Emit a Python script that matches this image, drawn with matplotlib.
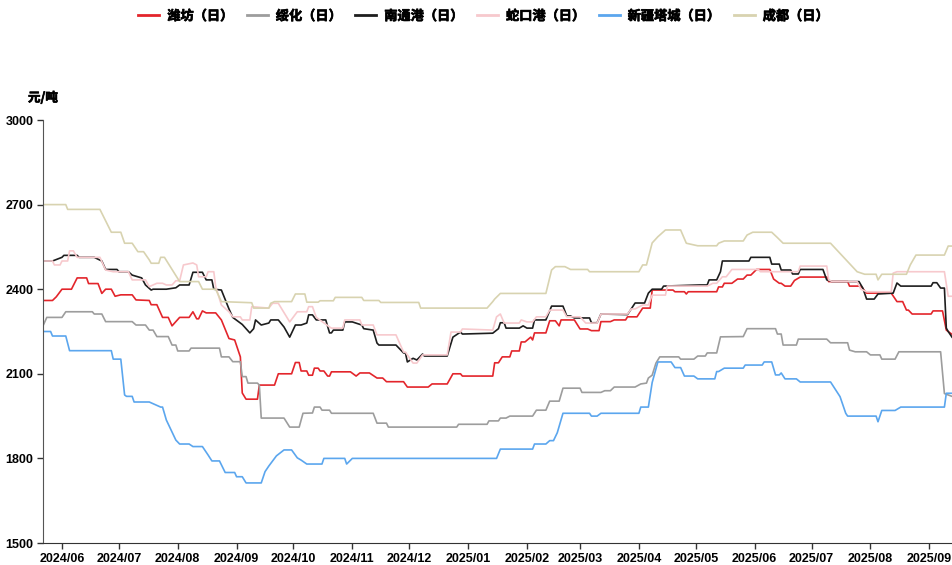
import numpy as np
import matplotlib
matplotlib.use("Agg")
import matplotlib.pyplot as plt
import matplotlib.dates as mdates
import matplotlib.patheffects as pe

plt.rcParams['font.family'] = ['Noto Sans CJK SC', 'DejaVu Sans']

# (date, price), 元/吨
weifang = [
    ("2024-05-22", 2360), ("2024-05-27", 2360), ("2024-05-29", 2373), ("2024-06-01", 2400),
    ("2024-06-06", 2400), ("2024-06-09", 2440), ("2024-06-14", 2440), ("2024-06-15", 2420),
    ("2024-06-20", 2420), ("2024-06-22", 2385), ("2024-06-24", 2400), ("2024-06-27", 2400),
    ("2024-06-29", 2375), ("2024-07-02", 2380), ("2024-07-08", 2380), ("2024-07-10", 2362),
    ("2024-07-17", 2360), ("2024-07-18", 2345), ("2024-07-21", 2345), ("2024-07-24", 2300),
    ("2024-07-27", 2300), ("2024-07-29", 2270), ("2024-08-02", 2300), ("2024-08-07", 2300),
    ("2024-08-09", 2320), ("2024-08-11", 2295), ("2024-08-12", 2295), ("2024-08-14", 2323),
    ("2024-08-16", 2316), ("2024-08-21", 2316), ("2024-08-24", 2291), ("2024-08-28", 2225),
    ("2024-08-31", 2220), ("2024-09-03", 2160), ("2024-09-04", 2032), ("2024-09-06", 2010),
    ("2024-09-12", 2010), ("2024-09-13", 2060), ("2024-09-21", 2060), ("2024-09-23", 2100),
    ("2024-09-30", 2100), ("2024-10-02", 2140), ("2024-10-04", 2140), ("2024-10-05", 2110),
    ("2024-10-08", 2110), ("2024-10-09", 2095), ("2024-10-11", 2095), ("2024-10-12", 2120),
    ("2024-10-14", 2120), ("2024-10-15", 2110), ("2024-10-17", 2110), ("2024-10-19", 2092),
    ("2024-10-20", 2092), ("2024-10-21", 2107), ("2024-10-31", 2107), ("2024-11-03", 2092),
    ("2024-11-05", 2103), ("2024-11-10", 2103), ("2024-11-14", 2085), ("2024-11-17", 2085),
    ("2024-11-19", 2072), ("2024-11-28", 2072), ("2024-11-30", 2053), ("2024-12-11", 2053),
    ("2024-12-13", 2064), ("2024-12-21", 2064), ("2024-12-24", 2100), ("2024-12-28", 2100),
    ("2024-12-29", 2092), ("2025-01-14", 2092), ("2025-01-15", 2139), ("2025-01-17", 2139),
    ("2025-01-19", 2160), ("2025-01-23", 2160), ("2025-01-24", 2181), ("2025-01-28", 2181),
    ("2025-01-29", 2213), ("2025-01-31", 2213), ("2025-02-03", 2230), ("2025-02-04", 2220),
    ("2025-02-05", 2245), ("2025-02-11", 2245), ("2025-02-13", 2288), ("2025-02-16", 2288),
    ("2025-02-18", 2270), ("2025-02-19", 2291), ("2025-02-26", 2291), ("2025-03-01", 2259),
    ("2025-03-05", 2259), ("2025-03-07", 2253), ("2025-03-11", 2253), ("2025-03-12", 2285),
    ("2025-03-17", 2285), ("2025-03-19", 2291), ("2025-03-25", 2291), ("2025-03-26", 2302),
    ("2025-03-31", 2302), ("2025-04-03", 2333), ("2025-04-07", 2333), ("2025-04-08", 2397),
    ("2025-04-19", 2397), ("2025-04-20", 2391), ("2025-04-25", 2391), ("2025-04-26", 2383),
    ("2025-04-27", 2391), ("2025-05-12", 2391), ("2025-05-13", 2408), ("2025-05-15", 2408),
    ("2025-05-16", 2421), ("2025-05-20", 2421), ("2025-05-23", 2436), ("2025-05-26", 2436),
    ("2025-05-28", 2450), ("2025-05-30", 2450), ("2025-06-02", 2470), ("2025-06-09", 2470),
    ("2025-06-11", 2436), ("2025-06-14", 2421), ("2025-06-15", 2421), ("2025-06-17", 2411),
    ("2025-06-20", 2411), ("2025-06-22", 2431), ("2025-06-25", 2443), ("2025-07-09", 2443),
    ("2025-07-10", 2427), ("2025-07-20", 2427), ("2025-07-21", 2411), ("2025-07-27", 2411),
    ("2025-07-30", 2386), ("2025-08-12", 2386), ("2025-08-15", 2356), ("2025-08-18", 2356),
    ("2025-08-20", 2326), ("2025-08-21", 2326), ("2025-08-23", 2312), ("2025-09-02", 2312),
    ("2025-09-03", 2323), ("2025-09-08", 2323), ("2025-09-10", 2255), ("2025-09-13", 2240),
]

suihua = [
    ("2024-05-22", 2270), ("2024-05-24", 2300), ("2024-06-01", 2300), ("2024-06-03", 2320),
    ("2024-06-17", 2320), ("2024-06-18", 2312), ("2024-06-22", 2312), ("2024-06-24", 2285),
    ("2024-07-08", 2285), ("2024-07-10", 2273), ("2024-07-15", 2273), ("2024-07-17", 2255),
    ("2024-07-19", 2255), ("2024-07-21", 2232), ("2024-07-27", 2232), ("2024-07-29", 2202),
    ("2024-07-31", 2202), ("2024-08-01", 2181), ("2024-08-07", 2181), ("2024-08-08", 2191),
    ("2024-08-23", 2191), ("2024-08-24", 2160), ("2024-08-28", 2160), ("2024-08-30", 2143),
    ("2024-09-03", 2143), ("2024-09-04", 2090), ("2024-09-06", 2090), ("2024-09-07", 2067),
    ("2024-09-12", 2067), ("2024-09-13", 2060), ("2024-09-14", 1943), ("2024-09-26", 1943),
    ("2024-09-29", 1911), ("2024-10-04", 1911), ("2024-10-06", 1960), ("2024-10-11", 1961),
    ("2024-10-12", 1982), ("2024-10-15", 1982), ("2024-10-16", 1971), ("2024-10-20", 1971),
    ("2024-10-21", 1960), ("2024-11-12", 1960), ("2024-11-14", 1925), ("2024-11-19", 1925),
    ("2024-11-20", 1911), ("2024-12-26", 1911), ("2024-12-27", 1921), ("2025-01-11", 1921),
    ("2025-01-12", 1933), ("2025-01-17", 1933), ("2025-01-18", 1943), ("2025-01-21", 1943),
    ("2025-01-23", 1950), ("2025-02-04", 1950), ("2025-02-06", 1971), ("2025-02-11", 1971),
    ("2025-02-13", 2003), ("2025-02-18", 2003), ("2025-02-20", 2049), ("2025-03-01", 2049),
    ("2025-03-02", 2034), ("2025-03-12", 2034), ("2025-03-14", 2040), ("2025-03-17", 2040),
    ("2025-03-19", 2053), ("2025-03-30", 2053), ("2025-04-02", 2064), ("2025-04-05", 2067),
    ("2025-04-06", 2085), ("2025-04-08", 2095), ("2025-04-10", 2138), ("2025-04-12", 2160),
    ("2025-04-22", 2160), ("2025-04-23", 2152), ("2025-04-30", 2152), ("2025-05-02", 2163),
    ("2025-05-06", 2163), ("2025-05-07", 2174), ("2025-05-12", 2174), ("2025-05-14", 2231),
    ("2025-05-26", 2232), ("2025-05-28", 2260), ("2025-06-12", 2260), ("2025-06-13", 2241),
    ("2025-06-15", 2241), ("2025-06-16", 2202), ("2025-06-23", 2202), ("2025-06-24", 2223),
    ("2025-07-09", 2223), ("2025-07-11", 2210), ("2025-07-20", 2210), ("2025-07-21", 2184),
    ("2025-07-24", 2178), ("2025-07-30", 2178), ("2025-08-01", 2167), ("2025-08-06", 2167),
    ("2025-08-07", 2152), ("2025-08-14", 2152), ("2025-08-16", 2178), ("2025-09-07", 2178),
    ("2025-09-09", 2030), ("2025-09-13", 2020),
]

nantong = [
    ("2024-05-22", 2500), ("2024-05-27", 2500), ("2024-06-01", 2513), ("2024-06-02", 2520),
    ("2024-06-09", 2520), ("2024-06-10", 2513), ("2024-06-18", 2513), ("2024-06-22", 2500),
    ("2024-06-24", 2470), ("2024-06-30", 2470), ("2024-07-01", 2462), ("2024-07-06", 2462),
    ("2024-07-08", 2450), ("2024-07-13", 2440), ("2024-07-15", 2415), ("2024-07-18", 2397),
    ("2024-07-19", 2400), ("2024-07-26", 2400), ("2024-07-31", 2405), ("2024-08-02", 2415),
    ("2024-08-07", 2415), ("2024-08-09", 2460), ("2024-08-14", 2460), ("2024-08-16", 2433),
    ("2024-08-19", 2433), ("2024-08-20", 2400), ("2024-08-24", 2397), ("2024-08-28", 2330),
    ("2024-08-30", 2300), ("2024-09-04", 2275), ("2024-09-08", 2245), ("2024-09-10", 2260),
    ("2024-09-11", 2291), ("2024-09-14", 2273), ("2024-09-18", 2280), ("2024-09-19", 2291),
    ("2024-09-23", 2291), ("2024-09-26", 2266), ("2024-09-29", 2230), ("2024-10-02", 2273),
    ("2024-10-05", 2273), ("2024-10-08", 2280), ("2024-10-09", 2309), ("2024-10-11", 2309),
    ("2024-10-13", 2291), ("2024-10-18", 2291), ("2024-10-20", 2245), ("2024-10-21", 2245),
    ("2024-10-22", 2255), ("2024-10-27", 2255), ("2024-10-28", 2284), ("2024-11-01", 2284),
    ("2024-11-06", 2273), ("2024-11-07", 2260), ("2024-11-12", 2255), ("2024-11-14", 2209),
    ("2024-11-15", 2202), ("2024-11-24", 2202), ("2024-11-28", 2174), ("2024-11-29", 2174),
    ("2024-11-30", 2142), ("2024-12-03", 2155), ("2024-12-05", 2149), ("2024-12-08", 2170),
    ("2024-12-09", 2163), ("2024-12-21", 2163), ("2024-12-24", 2230), ("2024-12-28", 2248),
    ("2024-12-29", 2241), ("2025-01-14", 2244), ("2025-01-17", 2260), ("2025-01-18", 2281),
    ("2025-01-20", 2281), ("2025-01-21", 2262), ("2025-01-28", 2262), ("2025-01-30", 2270),
    ("2025-02-01", 2262), ("2025-02-04", 2262), ("2025-02-05", 2291), ("2025-02-11", 2291),
    ("2025-02-14", 2340), ("2025-02-20", 2340), ("2025-02-22", 2305), ("2025-02-24", 2305),
    ("2025-02-26", 2298), ("2025-03-06", 2298), ("2025-03-07", 2281), ("2025-03-10", 2281),
    ("2025-03-12", 2312), ("2025-03-26", 2310), ("2025-03-30", 2351), ("2025-04-04", 2351),
    ("2025-04-06", 2386), ("2025-04-08", 2400), ("2025-04-13", 2400), ("2025-04-14", 2411),
    ("2025-05-03", 2415), ("2025-05-07", 2415), ("2025-05-08", 2433), ("2025-05-12", 2433),
    ("2025-05-14", 2462), ("2025-05-15", 2500), ("2025-05-29", 2500), ("2025-05-30", 2513),
    ("2025-06-09", 2513), ("2025-06-10", 2489), ("2025-06-14", 2489), ("2025-06-15", 2468),
    ("2025-06-20", 2468), ("2025-06-21", 2454), ("2025-06-24", 2454), ("2025-06-25", 2470),
    ("2025-07-07", 2470), ("2025-07-09", 2433), ("2025-07-12", 2427), ("2025-07-26", 2427),
    ("2025-07-28", 2404), ("2025-07-30", 2365), ("2025-08-03", 2365), ("2025-08-05", 2383),
    ("2025-08-13", 2386), ("2025-08-15", 2422), ("2025-08-17", 2411), ("2025-09-02", 2411),
    ("2025-09-03", 2423), ("2025-09-05", 2423), ("2025-09-07", 2404), ("2025-09-09", 2404),
    ("2025-09-10", 2262), ("2025-09-11", 2250), ("2025-09-13", 2230),
]

shekou = [
    ("2024-05-22", 2500), ("2024-05-27", 2500), ("2024-05-28", 2486), ("2024-05-31", 2486),
    ("2024-06-01", 2500), ("2024-06-04", 2500), ("2024-06-05", 2536), ("2024-06-07", 2536),
    ("2024-06-09", 2513), ("2024-06-21", 2513), ("2024-06-24", 2468), ("2024-06-28", 2462),
    ("2024-07-06", 2462), ("2024-07-08", 2433), ("2024-07-15", 2433), ("2024-07-17", 2409),
    ("2024-07-21", 2421), ("2024-07-24", 2421), ("2024-07-26", 2415), ("2024-07-29", 2415),
    ("2024-07-31", 2430), ("2024-08-02", 2430), ("2024-08-04", 2486), ("2024-08-09", 2493),
    ("2024-08-11", 2486), ("2024-08-12", 2444), ("2024-08-16", 2444), ("2024-08-17", 2462),
    ("2024-08-20", 2462), ("2024-08-21", 2409), ("2024-08-24", 2344), ("2024-08-28", 2320),
    ("2024-08-30", 2302), ("2024-09-03", 2302), ("2024-09-04", 2291), ("2024-09-08", 2291),
    ("2024-09-09", 2338), ("2024-09-18", 2333), ("2024-09-20", 2350), ("2024-09-23", 2350),
    ("2024-09-29", 2284), ("2024-10-03", 2320), ("2024-10-08", 2320), ("2024-10-09", 2338),
    ("2024-10-11", 2338), ("2024-10-13", 2300), ("2024-10-20", 2266), ("2024-10-21", 2262),
    ("2024-10-27", 2262), ("2024-10-28", 2291), ("2024-11-05", 2291), ("2024-11-06", 2273),
    ("2024-11-12", 2273), ("2024-11-14", 2238), ("2024-11-24", 2238), ("2024-11-28", 2177),
    ("2024-11-29", 2177), ("2024-12-03", 2138), ("2024-12-05", 2138), ("2024-12-08", 2167),
    ("2024-12-21", 2167), ("2024-12-23", 2248), ("2024-12-28", 2248), ("2024-12-29", 2259),
    ("2025-01-14", 2255), ("2025-01-16", 2302), ("2025-01-18", 2312), ("2025-01-20", 2280),
    ("2025-01-28", 2280), ("2025-01-29", 2291), ("2025-02-01", 2284), ("2025-02-04", 2284),
    ("2025-02-06", 2302), ("2025-02-11", 2302), ("2025-02-13", 2326), ("2025-02-20", 2326),
    ("2025-02-22", 2302), ("2025-03-01", 2302), ("2025-03-04", 2280), ("2025-03-10", 2280),
    ("2025-03-12", 2312), ("2025-03-26", 2312), ("2025-03-28", 2330), ("2025-03-30", 2330),
    ("2025-04-03", 2344), ("2025-04-06", 2344), ("2025-04-08", 2379), ("2025-04-15", 2379),
    ("2025-04-16", 2411), ("2025-05-07", 2411), ("2025-05-10", 2421), ("2025-05-12", 2421),
    ("2025-05-15", 2444), ("2025-05-17", 2444), ("2025-05-20", 2470), ("2025-06-03", 2470),
    ("2025-06-04", 2462), ("2025-06-24", 2462), ("2025-06-25", 2482), ("2025-07-09", 2482),
    ("2025-07-10", 2433), ("2025-07-12", 2427), ("2025-07-25", 2427), ("2025-07-27", 2400),
    ("2025-07-30", 2391), ("2025-08-12", 2391), ("2025-08-13", 2457), ("2025-08-15", 2462),
    ("2025-09-09", 2462), ("2025-09-11", 2375), ("2025-09-13", 2375),
]

tacheng = [
    ("2024-05-22", 2250), ("2024-05-26", 2250), ("2024-05-27", 2234), ("2024-06-03", 2234),
    ("2024-06-05", 2182), ("2024-06-27", 2182), ("2024-06-28", 2152), ("2024-07-02", 2152),
    ("2024-07-04", 2025), ("2024-07-05", 2020), ("2024-07-08", 2020), ("2024-07-09", 2000),
    ("2024-07-17", 2000), ("2024-07-23", 1982), ("2024-07-24", 1982), ("2024-07-26", 1936),
    ("2024-07-31", 1865), ("2024-08-02", 1851), ("2024-08-07", 1851), ("2024-08-09", 1842),
    ("2024-08-14", 1842), ("2024-08-17", 1812), ("2024-08-19", 1791), ("2024-08-23", 1791),
    ("2024-08-26", 1750), ("2024-08-31", 1750), ("2024-09-01", 1735), ("2024-09-04", 1735),
    ("2024-09-06", 1713), ("2024-09-14", 1713), ("2024-09-16", 1753), ("2024-09-18", 1773),
    ("2024-09-22", 1809), ("2024-09-26", 1830), ("2024-09-30", 1830), ("2024-10-03", 1802),
    ("2024-10-05", 1794), ("2024-10-08", 1780), ("2024-10-16", 1780), ("2024-10-17", 1800),
    ("2024-10-28", 1800), ("2024-10-29", 1780), ("2024-11-01", 1800), ("2025-01-16", 1800),
    ("2025-01-18", 1833), ("2025-02-04", 1833), ("2025-02-05", 1851), ("2025-02-11", 1851),
    ("2025-02-13", 1863), ("2025-02-15", 1863), ("2025-02-17", 1891), ("2025-02-20", 1960),
    ("2025-03-06", 1960), ("2025-03-07", 1950), ("2025-03-10", 1950), ("2025-03-12", 1960),
    ("2025-04-01", 1960), ("2025-04-02", 1982), ("2025-04-06", 1982), ("2025-04-08", 2069),
    ("2025-04-11", 2142), ("2025-04-18", 2142), ("2025-04-20", 2122), ("2025-04-23", 2122),
    ("2025-04-25", 2092), ("2025-04-30", 2092), ("2025-05-02", 2082), ("2025-05-11", 2082),
    ("2025-05-12", 2108), ("2025-05-13", 2108), ("2025-05-16", 2120), ("2025-05-26", 2120),
    ("2025-05-27", 2131), ("2025-06-05", 2131), ("2025-06-06", 2142), ("2025-06-10", 2142),
    ("2025-06-12", 2096), ("2025-06-14", 2096), ("2025-06-15", 2103), ("2025-06-17", 2082),
    ("2025-06-23", 2082), ("2025-06-25", 2071), ("2025-07-11", 2071), ("2025-07-16", 2019),
    ("2025-07-19", 1960), ("2025-07-20", 1950), ("2025-08-04", 1950), ("2025-08-05", 1930),
    ("2025-08-07", 1970), ("2025-08-14", 1970), ("2025-08-17", 1982), ("2025-09-09", 1982),
    ("2025-09-10", 2031), ("2025-09-13", 2031),
]

chengdu = [
    ("2024-05-22", 2700), ("2024-06-03", 2700), ("2024-06-04", 2683), ("2024-06-21", 2683),
    ("2024-06-27", 2602), ("2024-07-02", 2602), ("2024-07-04", 2563), ("2024-07-08", 2563),
    ("2024-07-11", 2533), ("2024-07-14", 2533), ("2024-07-17", 2504), ("2024-07-18", 2492),
    ("2024-07-22", 2492), ("2024-07-23", 2513), ("2024-07-25", 2513), ("2024-08-02", 2427),
    ("2024-08-12", 2427), ("2024-08-14", 2400), ("2024-08-21", 2400), ("2024-08-24", 2356),
    ("2024-09-09", 2352), ("2024-09-10", 2333), ("2024-09-18", 2333), ("2024-09-19", 2350),
    ("2024-09-21", 2356), ("2024-09-30", 2356), ("2024-10-02", 2383), ("2024-10-07", 2383),
    ("2024-10-08", 2354), ("2024-10-14", 2354), ("2024-10-15", 2359), ("2024-10-22", 2359),
    ("2024-10-23", 2371), ("2024-11-06", 2371), ("2024-11-07", 2360), ("2024-11-15", 2360),
    ("2024-11-16", 2353), ("2024-12-06", 2353), ("2024-12-07", 2333), ("2025-01-11", 2333),
    ("2025-01-14", 2356), ("2025-01-15", 2365), ("2025-01-18", 2385), ("2025-02-11", 2385),
    ("2025-02-14", 2468), ("2025-02-16", 2480), ("2025-02-21", 2480), ("2025-02-24", 2470),
    ("2025-03-05", 2470), ("2025-03-06", 2462), ("2025-04-01", 2462), ("2025-04-03", 2486),
    ("2025-04-05", 2486), ("2025-04-08", 2564), ("2025-04-11", 2586), ("2025-04-15", 2610),
    ("2025-04-23", 2610), ("2025-04-26", 2563), ("2025-05-02", 2554), ("2025-05-12", 2554),
    ("2025-05-13", 2563), ("2025-05-16", 2571), ("2025-05-26", 2571), ("2025-05-28", 2592),
    ("2025-05-31", 2602), ("2025-06-10", 2602), ("2025-06-13", 2583), ("2025-06-16", 2563),
    ("2025-07-11", 2563), ("2025-07-25", 2462), ("2025-07-29", 2453), ("2025-08-04", 2453),
    ("2025-08-05", 2433), ("2025-08-07", 2453), ("2025-08-20", 2453), ("2025-08-22", 2486),
    ("2025-08-25", 2521), ("2025-09-09", 2521), ("2025-09-11", 2553), ("2025-09-13", 2553),
]

series = [
    ("潍坊（日）", weifang, "#e3252b"),
    ("绥化（日）", suihua, "#9d9d9d"),
    ("南通港（日）", nantong, "#1e1e1e"),
    ("蛇口港（日）", shekou, "#f7c9cd"),
    ("新疆塔城（日）", tacheng, "#5ba6ee"),
    ("成都（日）", chengdu, "#d8d3b0"),
]

fig = plt.figure(figsize=(9.52, 5.65), dpi=100)
ax = fig.add_axes([43 / 952, 1 - 543 / 565, 1 - 43 / 952, (543 - 120) / 565])

for name, data, color in series:
    dates = np.array([d for d, v in data], dtype="datetime64[D]")
    vals = [v for d, v in data]
    ax.plot(dates, vals, color=color, lw=1.2, label=name)

ax.set_ylim(1500, 3000)
ax.set_yticks([1500, 1800, 2100, 2400, 2700, 3000])
ax.set_xlim(np.datetime64("2024-05-22"), np.datetime64("2025-09-13"))
ax.xaxis.set_major_locator(mdates.MonthLocator())
ax.xaxis.set_major_formatter(mdates.DateFormatter("%Y/%m"))

for s in ["top", "right"]:
    ax.spines[s].set_visible(False)
ax.spines["left"].set_color("#555555")
ax.spines["bottom"].set_color("#333333")
ax.tick_params(axis="both", direction="out", length=4, width=1, colors="#333333",
               labelcolor="black", labelsize=9, pad=3)
for lab in ax.get_xticklabels() + ax.get_yticklabels():
    lab.set_fontweight("bold")
    lab.set_family(["Liberation Sans", "DejaVu Sans"])

# the CJK font has no bold face here, so thicken it with a thin outline
bold_fx = [pe.withStroke(linewidth=0.5, foreground="black")]

fig.text(28 / 952, 1 - 98 / 565, "元/吨", fontsize=9, fontweight="bold", va="center", ha="left",
         path_effects=bold_fx)

leg = fig.legend(loc="upper center", bbox_to_anchor=(0.508, 1.005), ncol=6, frameon=False,
                 prop={"size": 9.5, "weight": "bold"}, handlelength=1.6, columnspacing=1.0,
                 handletextpad=0.6)
for t in leg.get_texts():
    t.set_path_effects(bold_fx)
for h in leg.get_lines():
    h.set_linewidth(2.0)

fig.savefig("out.png", dpi=100)
